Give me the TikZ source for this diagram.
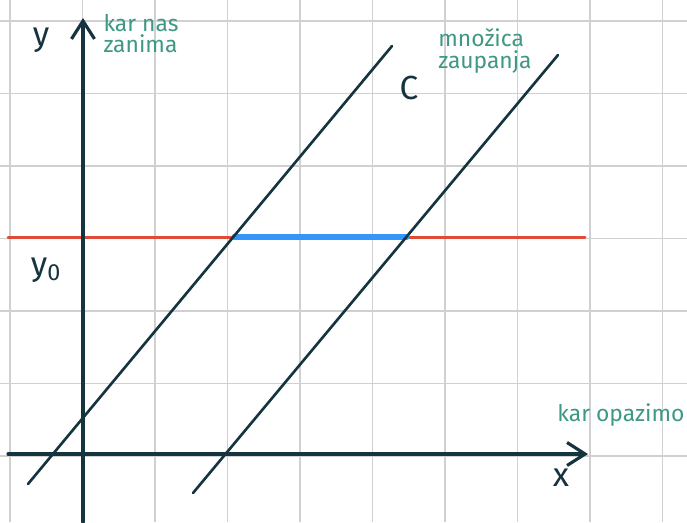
\documentclass[tikz,border=0pt]{standalone}
\usepackage{fontspec}
\setmainfont{Fira Sans}
\usepackage{tikz}
\usetikzlibrary{
    arrows.meta,
    positioning
}
\definecolor{GridGray}{RGB}{208,208,208}
\definecolor{AxisNavy}{RGB}{22,52,64}
\definecolor{NoteTeal}{RGB}{62,152,132}
\definecolor{LineRed}{RGB}{222,76,56}
\definecolor{SetBlue}{RGB}{52,150,250}
\tikzset{
  gridln/.style  = {GridGray, line width=0.9pt},
  axis/.style    = {AxisNavy, line width=1.8pt, line cap=round,
                    -{Straight Barb[length=3.6mm,width=4.6mm,line width=1.8pt]}},
  cline/.style   = {AxisNavy, line width=1.5pt, line cap=round},
  note/.style    = {NoteTeal, font=\fontsize{13}{12}\selectfont, align=left, inner sep=0pt},
  lbl/.style     = {AxisNavy, font=\fontsize{19}{19}\selectfont, inner sep=0pt}
}

\begin{document}
\begin{tikzpicture}[x=0.02cm, y=-0.02cm]
\useasboundingbox[fill=white] (0,0) rectangle (687,522);
% grid
\foreach \i in {0,...,9}
  \draw[gridln] ({10+72.5*\i},0) -- ({10+72.5*\i},522);
\foreach \j in {0,...,6}
  \draw[gridln] (0,{21+72.5*\j}) -- (687,{21+72.5*\j});

\coordinate (yb) at (83,522);
\coordinate (yt) at (83,18);
\coordinate (xl) at (8,454);
\coordinate (xr) at (588,454);
\coordinate (rl) at (8,237);
\coordinate (rr) at (585,237);
\coordinate (bl) at (234,237);
\coordinate (br) at (407,237);
\coordinate (c1b) at (28,484);
\coordinate (c1t) at (392,46);
\coordinate (c2b) at (193,493);
\coordinate (c2t) at (558,55);

\draw[LineRed, line width=1.7pt, line cap=round] (rl) -- (rr);
\draw[SetBlue, line width=3pt, line cap=round] (bl) -- (br);
\draw[axis] (yb) -- (yt);
\draw[axis] (xl) -- (xr);
\draw[cline] (c1b) -- (c1t);
\draw[cline] (c2b) -- (c2t);

\node[lbl] (ylab) at (41,40) {y};
\node[lbl] (xlab) at (561,478) {x};
\node[lbl] (clab) at (409,88) {C};
\node[lbl] (y0lab) at (46,270) {y\textsubscript{0}};
\node[note] (nzan) at (141,34) {kar nas\\zanima};
\node[note] (nset) at (485,51) {množica\\zaupanja};
\node[note] (nopa) at (621,415) {kar opazimo};
\end{tikzpicture}
\end{document}
